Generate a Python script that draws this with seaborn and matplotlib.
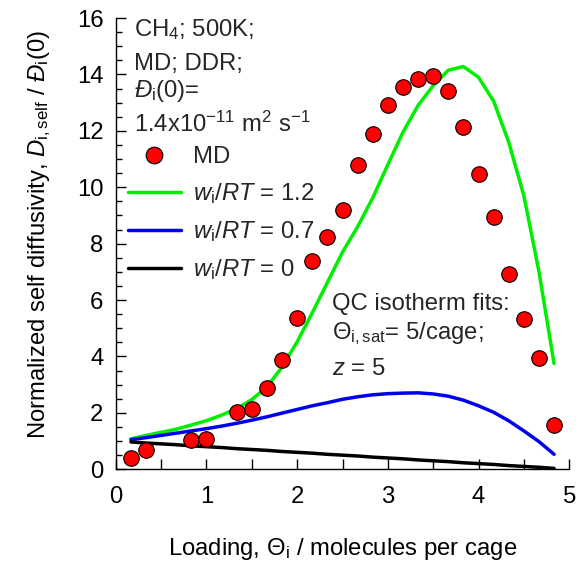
import numpy as np
import pandas as pd
import matplotlib
matplotlib.use("Agg")
import matplotlib.pyplot as plt
import seaborn as sns
from matplotlib.ticker import MultipleLocator
from matplotlib.lines import Line2D

# ---- data ----
md_x = [0.167, 0.333, 0.833, 1.0, 1.333, 1.5, 1.667, 1.833, 2.0, 2.167, 2.333,
        2.5, 2.667, 2.833, 3.0, 3.167, 3.333, 3.5, 3.667, 3.833, 4.0, 4.167,
        4.333, 4.5, 4.667, 4.833]
md_y = [0.41, 0.70, 1.03, 1.07, 2.03, 2.12, 2.88, 3.87, 5.38, 7.38, 8.22,
        9.18, 10.8, 11.9, 12.93, 13.56, 13.83, 13.94, 13.43, 12.14, 10.46, 8.95,
        6.91, 5.34, 3.93, 1.56]

fit_x = [0.167, 0.333, 0.5, 0.667, 0.833, 1.0, 1.167, 1.333, 1.5, 1.667,
         1.833, 2.0, 2.167, 2.333, 2.5, 2.667, 2.833, 3.0, 3.167, 3.333,
         3.5, 3.667, 3.833, 4.0, 4.167, 4.333, 4.5, 4.667, 4.833]
w12_y = [1.08, 1.20, 1.31, 1.42, 1.57, 1.72, 1.92, 2.15, 2.47, 2.92,
         3.62, 4.52, 5.55, 6.62, 7.70, 8.60, 9.62, 10.8, 11.95, 12.9,
         13.6, 14.15, 14.28, 13.9, 13.05, 11.6, 9.7, 7.0, 3.75]
w07_y = [1.05, 1.12, 1.20, 1.28, 1.36, 1.44, 1.53, 1.63, 1.74, 1.86,
         1.99, 2.12, 2.25, 2.36, 2.48, 2.57, 2.64, 2.68, 2.70, 2.71,
         2.67, 2.59, 2.45, 2.25, 2.02, 1.72, 1.36, 0.98, 0.53]
w0_y = [0.97, 0.93, 0.90, 0.87, 0.83, 0.80, 0.77, 0.73, 0.70, 0.67,
        0.63, 0.60, 0.57, 0.53, 0.50, 0.47, 0.43, 0.40, 0.37, 0.33,
        0.30, 0.27, 0.23, 0.20, 0.17, 0.13, 0.10, 0.07, 0.03]

series_labels = [r"$w_\mathrm{i}$/$RT$ = 1.2", r"$w_\mathrm{i}$/$RT$ = 0.7",
                 r"$w_\mathrm{i}$/$RT$ = 0"]
series_colors = ["#00EE00", "#0000EE", "#000000"]

# ---- style ----
sns.set_theme(style="ticks")
plt.rcParams["font.family"] = ["Liberation Sans", "DejaVu Sans"]
plt.rcParams["mathtext.fontset"] = "custom"
plt.rcParams["mathtext.rm"] = "Liberation Sans"
plt.rcParams["mathtext.it"] = "Liberation Sans:italic"
plt.rcParams["mathtext.bf"] = "Liberation Sans:bold"

FS = 17.2
fig = plt.figure(figsize=(5.82, 5.64), dpi=100)
ax = fig.add_axes([0.199, 0.168, 0.779, 0.800])

fits = pd.DataFrame({
    "x": fit_x * 3,
    "y": w12_y + w07_y + w0_y,
    "series": [series_labels[0]] * len(fit_x) + [series_labels[1]] * len(fit_x)
              + [series_labels[2]] * len(fit_x),
})
md = pd.DataFrame({"x": md_x, "y": md_y})

sns.lineplot(data=fits, x="x", y="y", hue="series", hue_order=series_labels,
             palette=series_colors, linewidth=2.5, ax=ax, legend=False, sort=False)
sns.scatterplot(data=md, x="x", y="y", color="#FF0000", edgecolor="black",
                linewidth=0.8, s=125, ax=ax, zorder=3, legend=False)

ax.set_xlim(0, 5)
ax.set_ylim(0, 16)
ax.xaxis.set_major_locator(MultipleLocator(1))
ax.xaxis.set_minor_locator(MultipleLocator(0.5))
ax.yaxis.set_major_locator(MultipleLocator(2))
ax.yaxis.set_minor_locator(MultipleLocator(0.5))
ax.tick_params(axis="x", which="both", direction="in", length=7, width=1,
               color="black", labelsize=FS, pad=12, labelcolor="black")
ax.tick_params(axis="y", which="major", direction="in", length=7, width=1,
               color="black", labelsize=FS, pad=9, labelcolor="black")
ax.tick_params(axis="y", which="minor", direction="in", length=4, width=1,
               color="black")
for s in ["top", "right"]:
    ax.spines[s].set_visible(False)
for s in ["left", "bottom"]:
    ax.spines[s].set_color("black")
    ax.spines[s].set_linewidth(1)

ax.set_xlabel(r"Loading, $\Theta_\mathrm{i}$ / molecules per cage", fontsize=FS,
              labelpad=20, color="black")
ax.set_ylabel(r"Normalized self diffusivity, $D_\mathrm{i,self}$ / $Đ_\mathrm{i}$(0)",
              fontsize=FS, labelpad=17, color="black")
ax.yaxis.label.set_y(0.52)

# annotations
tx = 0.2
ax.text(tx, 15.6, r"CH$_4$; 500K;", fontsize=FS, va="center", ha="left")
ax.text(tx, 14.38, "MD; DDR;", fontsize=FS, va="center", ha="left")
ax.text(tx, 13.42, r"$Đ_\mathrm{i}$(0)=", fontsize=FS, va="center", ha="left")
ax.text(tx, 12.22, r"1.4x10$^{-11}$ m$^2$ s$^{-1}$", fontsize=FS, va="center", ha="left")

qx = 2.385
ax.text(qx, 5.87, "QC isotherm fits:", fontsize=FS, va="center", ha="left")
ax.text(qx, 4.8, r"$\Theta_\mathrm{i,sat}$= 5/cage;", fontsize=FS, va="center", ha="left")
ax.text(qx, 3.55, r"$z$ = 5", fontsize=FS, va="center", ha="left")

# legend
handles = [Line2D([], [], marker="o", linestyle="none", markersize=12,
                  markerfacecolor="#FF0000", markeredgecolor="black",
                  markeredgewidth=0.8)]
for c in series_colors:
    handles.append(Line2D([], [], color=c, linewidth=2.5))
labels = ["MD"] + series_labels
ax.legend(handles, labels, loc="upper left", bbox_to_anchor=(0.027, 0.716),
          frameon=False, fontsize=FS, handlelength=2.2, handletextpad=0.5,
          labelspacing=0.55, borderpad=0, borderaxespad=0)

fig.savefig("out.png", dpi=100)
